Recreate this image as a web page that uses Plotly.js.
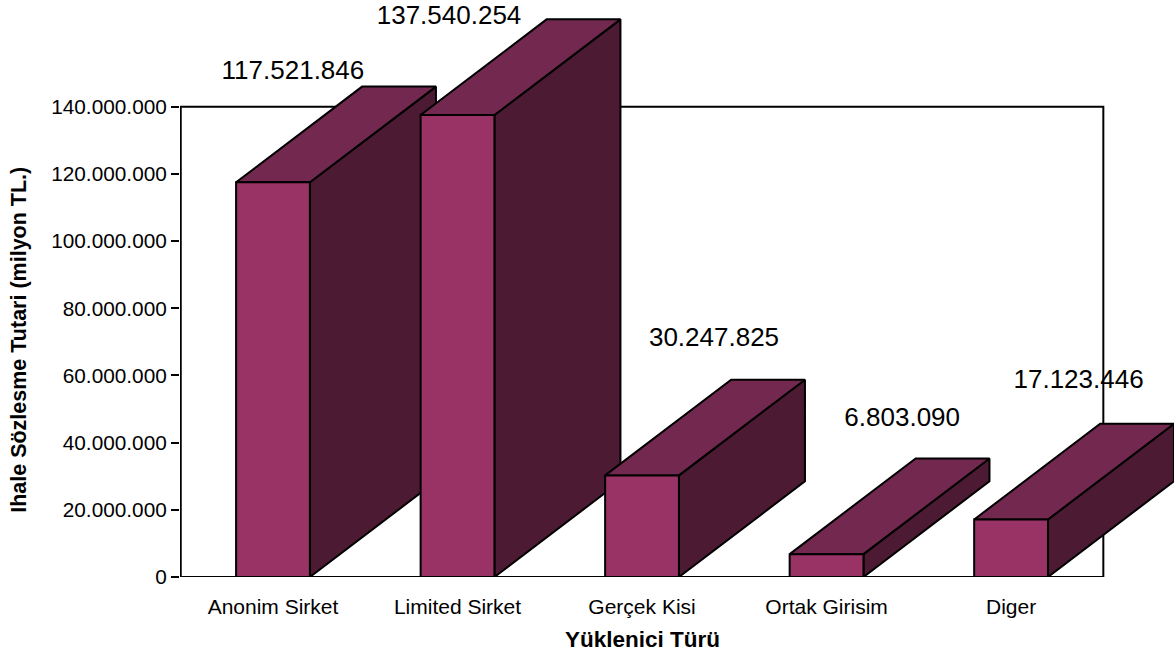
<!DOCTYPE html>
<html>
<head>
<meta charset="utf-8">
<script src="https://cdn.plot.ly/plotly-3.0.1.min.js"></script>
<style>html,body{margin:0;padding:0;background:#fff}</style>
</head>
<body>
<div id="chart" style="width:1174px;height:657px"></div>
<script>
const categories = ['Anonim Sirket', 'Limited Sirket', 'Gerçek Kisi', 'Ortak Girisim', 'Diger'];
const values = [117521846, 137540254, 30247825, 6803090, 17123446];
const valueLabels = ['117.521.846', '137.540.254', '30.247.825', '6.803.090', '17.123.446'];
const yTicks = [0, 20000000, 40000000, 60000000, 80000000, 100000000, 120000000, 140000000];
const yTickLabels = ['0', '20.000.000', '40.000.000', '60.000.000', '80.000.000', '100.000.000', '120.000.000', '140.000.000'];

// Geometry of the pseudo-3D bars, in axis units
const halfWidth = 0.2;
const depthX = 0.683;
const depthY = 28500000;
const xLeft = -0.5, xRight = 4.5, yFrameTop = 140000000;
// Label placement relative to each category centre and to the back top edge of each bar
const labelDx = [0.108, -0.046, 0.39, 0.41, 0.366];
const labelDy = [4300000, 500000, 11900000, 11500000, 12500000];

const front = '#993366', topFace = '#732850', sideFace = '#4d1a33';
const edge = {color: '#000', width: 2};

function poly(xs, ys, fill) {
  return {type: 'scatter', mode: 'lines', x: xs.concat(xs[0]), y: ys.concat(ys[0]), fill: 'toself',
    fillcolor: fill, line: edge, hoverinfo: 'skip', showlegend: false};
}
const traces = [];
traces.push({type: 'scatter', mode: 'lines', x: [xLeft, xLeft, xRight, xRight, xLeft], y: [0, yFrameTop, yFrameTop, 0, 0],
  line: edge, hoverinfo: 'skip', showlegend: false});
categories.forEach((c, i) => {
  const v = values[i], l = i - halfWidth, r = i + halfWidth;
  traces.push(poly([r, r + depthX, r + depthX, r], [0, depthY, v + depthY, v], sideFace));
  traces.push(poly([l, r, r + depthX, l + depthX], [v, v, v + depthY, v + depthY], topFace));
  traces.push(poly([l, r, r, l], [0, 0, v, v], front));
});
traces.push({type: 'scatter', mode: 'text',
  x: values.map((v, i) => i + labelDx[i]),
  y: values.map((v, i) => v + depthY + labelDy[i]),
  text: valueLabels, textposition: 'middle center',
  textfont: {family: 'Liberation Sans, Arial, sans-serif', size: 26, color: '#000'},
  hoverinfo: 'skip', showlegend: false, cliponaxis: false});

const layout = {
  width: 1174, height: 657, paper_bgcolor: '#fff', plot_bgcolor: '#fff',
  margin: {l: 180, r: 0, t: 0, b: 80, pad: 0},
  font: {family: 'Liberation Sans, Arial, sans-serif', color: '#000'},
  xaxis: {range: [-0.504, 4.883], tickmode: 'array', tickvals: categories.map((c, i) => i), ticktext: categories,
    showgrid: false, zeroline: false, showline: false, ticks: '', ticklabelstandoff: 15,
    tickfont: {size: 21}, automargin: false},
  yaxis: {range: [0, 171800000], tickmode: 'array', tickvals: yTicks, ticktext: yTickLabels,
    showgrid: false, zeroline: false, showline: false, ticks: 'outside', ticklen: 8, tickwidth: 2, tickcolor: '#000',
    tickfont: {size: 20.8}, automargin: false},
  annotations: [
    {text: '<b>Ihale Sözlesme Tutari (milyon TL.)</b>', xref: 'paper', yref: 'paper',
      x: -0.162, y: 0.411, xanchor: 'center', yanchor: 'middle', showarrow: false, textangle: -90, font: {size: 21.5}},
    {text: '<b>Yüklenici Türü</b>', xref: 'x', yref: 'paper',
      x: 2, y: -0.109, xanchor: 'center', yanchor: 'middle', showarrow: false, font: {size: 22.5}}
  ]
};
Plotly.newPlot('chart', traces, layout, {displayModeBar: false, staticPlot: true});
</script>
</body>
</html>
